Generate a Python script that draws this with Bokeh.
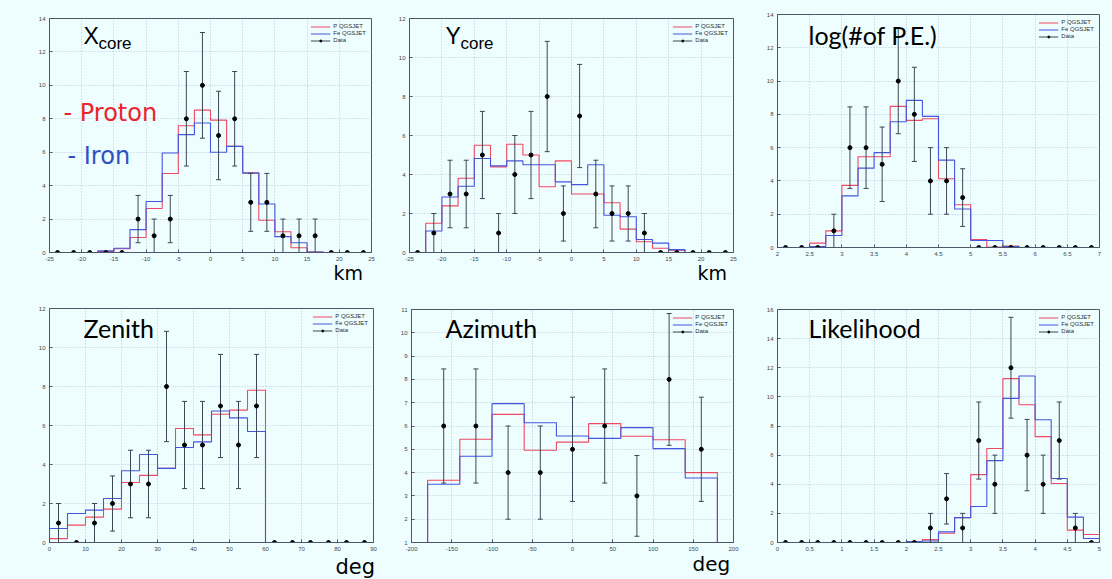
import numpy as np
from bokeh.plotting import figure
from bokeh.layouts import row, column
from bokeh.models import (Label, Legend, LegendItem, FixedTicker,
                          CustomJSTickFormatter, Range1d)
from bokeh.embed import file_html
from bokeh.resources import INLINE

BG = "#EEFEFE"
RED = "#EE4A62"
BLUE = "#4455E0"
ERR = "#3C4654"

# ---------------- data ----------------
# Xcore (km), bins of 2.5 from -25 to 25
xcore_edges = np.arange(-25, 25.001, 2.5)
xcore_p = [0, 0, 0, 0.05, 0.22, 0.9, 2.63, 4.73, 7.58, 8.52, 7.92, 6.35, 4.77, 1.93, 1.24, 0.28, 0.03, 0, 0, 0]
xcore_fe = [0, 0, 0, 0.1, 0.25, 1.37, 3.05, 5.95, 7.05, 7.75, 6.0, 6.35, 4.75, 2.9, 0.95, 0.58, 0.03, 0, 0, 0]
xcore_data = [0, 0, 0, 0, 0, 2, 1, 2, 8, 10, 7, 8, 3, 3, 1, 1, 1, 0, 0, 0]

# Ycore (km)
ycore_edges = np.arange(-25, 25.001, 2.5)
ycore_p = [0, 1.5, 2.39, 3.81, 5.5, 4.39, 5.55, 5.0, 3.37, 4.7, 3.0, 3.0, 2.55, 1.2, 0.55, 0.22, 0.12, 0, 0, 0]
ycore_fe = [0, 1.1, 2.85, 3.4, 4.82, 4.44, 4.7, 4.5, 4.5, 3.62, 3.48, 4.5, 1.91, 1.83, 0.67, 0.48, 0.15, 0, 0, 0]
ycore_data = [0, 1, 3, 3, 5, 1, 4, 5, 8, 2, 7, 3, 2, 2, 1, 0, 0, 0, 0, 0]

# log(# of P.E.)
logpe_edges = np.arange(2, 7.001, 0.25)
logpe_p = [0, 0, 0.26, 1.0, 3.73, 5.45, 5.45, 8.48, 7.64, 7.74, 4.13, 2.57, 0.48, 0.02, 0.08, 0, 0, 0, 0, 0]
logpe_fe = [0, 0, 0.06, 0.72, 3.1, 4.77, 5.7, 7.56, 8.84, 7.88, 5.25, 2.31, 0.42, 0.42, 0.06, 0, 0, 0, 0, 0]
logpe_data = [0, 0, 0, 1, 6, 6, 5, 10, 8, 4, 4, 3, 0, 0, 0, 0, 0, 0, 0, 0]

# Zenith (deg): simulation bins 0-60, data bins 0-90
zen_edges = np.arange(0, 60.001, 5)
zen_data_edges = np.arange(0, 90.001, 5)
zen_p = [0.2, 0.89, 1.3, 1.71, 3.08, 3.44, 3.8, 5.85, 5.52, 6.58, 6.79, 7.81]
zen_fe = [0.72, 1.49, 1.66, 2.26, 3.68, 4.51, 3.8, 4.87, 5.16, 6.74, 6.39, 5.69]
zen_data = [1, 0, 1, 2, 3, 3, 8, 5, 5, 7, 5, 7, 0, 0, 0, 0, 0, 0]

# Azimuth (deg)
az_edges = np.arange(-180, 180.001, 40)
az_p = [3.67, 5.43, 6.5, 4.96, 5.31, 6.1, 5.56, 5.41, 4.0]
az_fe = [3.5, 4.7, 6.96, 6.14, 5.57, 5.47, 5.93, 5.03, 3.77]
az_data = [6, 6, 4, 4, 5, 6, 3, 8, 5]

# Likelihood
lik_edges = np.arange(0, 5.001, 0.25)
lik_p = [0, 0, 0, 0, 0, 0, 0, 0, 0.05, 0.2, 0.64, 1.71, 4.66, 6.45, 11.25, 9.46, 7.27, 4.05, 0.85, 0.55]
lik_fe = [0, 0, 0, 0, 0, 0, 0, 0, 0.07, 0.1, 0.73, 1.71, 2.47, 5.62, 9.9, 11.43, 8.43, 4.39, 1.74, 0.27]
lik_data = [0, 0, 0, 0, 0, 0, 0, 0, 0, 1, 3, 1, 7, 4, 12, 6, 4, 7, 1, 0]


def step_path(edges, vals):
    xs, ys = [edges[0]], [0.0]
    for i, v in enumerate(vals):
        xs += [edges[i], edges[i + 1]]
        ys += [v, v]
    xs.append(edges[-1])
    ys.append(0.0)
    return xs, ys


FMT = CustomJSTickFormatter(code="return String(Math.round(tick*100)/100);")


def make_panel(w, h, bl, br, bt, bb, xr, yr, xt, yt, edges, pv, fev, data_edges, data):
    p = figure(width=w, height=h, x_range=Range1d(*xr), y_range=Range1d(*yr),
               output_backend="svg", toolbar_location=None, title=None,
               min_border_left=bl, min_border_right=br,
               min_border_top=bt, min_border_bottom=bb)
    p.background_fill_color = BG
    p.border_fill_color = BG
    p.outline_line_color = "#4C5868"
    p.outline_line_width = 1
    p.xaxis.ticker = FixedTicker(ticks=xt)
    p.yaxis.ticker = FixedTicker(ticks=yt)
    for ax in (p.xaxis, p.yaxis):
        ax.formatter = FMT
        ax.major_tick_in = 3
        ax.major_tick_out = 0
        ax.minor_tick_line_color = None
        ax.axis_line_color = "#4C5868"
        ax.major_tick_line_color = "#4C5868"
        ax.major_label_text_font_size = "6px"
        ax.major_label_text_color = "#404850"
        ax.major_label_text_font = "Liberation Sans"
        ax.major_label_standoff = 4
    p.grid.grid_line_color = "#AFC2DA"
    p.grid.grid_line_dash = "1 2"
    p.grid.grid_line_alpha = 0.9

    xs, ys = step_path(edges, pv)
    rp = p.line(xs, ys, line_color=RED, line_width=1.1)
    xs, ys = step_path(edges, fev)
    rf = p.line(xs, ys, line_color=BLUE, line_width=1.1)

    centers = [(data_edges[i] + data_edges[i + 1]) / 2 for i in range(len(data))]
    d = np.array(data, dtype=float)
    err = np.sqrt(d)
    lo, hi = d - err, d + err
    rs = p.segment(centers, lo, centers, hi, line_color=ERR, line_width=1)
    p.scatter(centers, hi, marker="dash", size=5, line_color=ERR, line_width=1)
    p.scatter(centers, lo, marker="dash", size=5, line_color=ERR, line_width=1)
    rd = p.scatter(centers, d, size=4, color="black")

    leg = Legend(items=[LegendItem(label="P QGSJET", renderers=[rp]),
                        LegendItem(label="Fe QGSJET", renderers=[rf]),
                        LegendItem(label="Data", renderers=[rs, rd])],
                 location="top_right")
    leg.label_text_font_size = "6px"
    leg.label_text_font = "Liberation Sans"
    leg.label_text_color = "#303030"
    leg.label_height = 5
    leg.glyph_height = 5
    leg.glyph_width = 20
    leg.label_standoff = 3
    leg.spacing = 1
    leg.padding = 2
    leg.margin = 3
    leg.background_fill_alpha = 0
    leg.border_line_alpha = 0
    p.add_layout(leg)
    return p


def strip(w, h):
    s = figure(width=w, height=h, x_range=Range1d(0, w), y_range=Range1d(0, h),
               output_backend="svg", toolbar_location=None, title=None,
               x_axis_type=None, y_axis_type=None, min_border=0)
    s.frame_align = False
    s.background_fill_color = BG
    s.border_fill_color = BG
    s.outline_line_color = None
    s.grid.visible = False
    return s


def lab(p, x, y, text, size, font="Liberation Sans", color="black"):
    p.add_layout(Label(x=x, y=y, x_units="screen", y_units="screen", text=text,
                       text_font=font, text_font_size=size,
                       text_color=color, text_baseline="alphabetic"))


# ---------------- top row ----------------
f1 = make_panel(390, 263, 49, 19, 18, 11, (-25, 25), (0, 14),
                list(range(-25, 26, 5)), list(range(0, 15, 2)),
                xcore_edges, xcore_p, xcore_fe, xcore_edges, xcore_data)
lab(f1, 34, 217, "X", "23px")
lab(f1, 49, 209, "core", "17px")
lab(f1, 14, 140, "- Proton", "24px", font="DejaVu Sans", color="#E8242C")
lab(f1, 18, 97, "- Iron", "24px", font="DejaVu Sans", color="#2E52C4")
s1 = strip(390, 19)
lab(s1, 333, 10, "km", "19px", font="DejaVu Sans")

f2 = make_panel(366, 263, 19, 23, 18, 11, (-25, 25), (0, 12),
                list(range(-25, 26, 5)), list(range(0, 13, 2)),
                ycore_edges, ycore_p, ycore_fe, ycore_edges, ycore_data)
lab(f2, 36, 217, "Y", "23px")
lab(f2, 51, 209, "core", "17px")
s2 = strip(366, 19)
lab(s2, 307, 10, "km", "19px", font="DejaVu Sans")

f3 = make_panel(355, 282, 21, 12, 14, 35, (2, 7), (0, 14),
                [2 + 0.5 * i for i in range(11)], list(range(0, 15, 2)),
                logpe_edges, logpe_p, logpe_fe, logpe_edges, logpe_data)
lab(f3, 31, 213, "log(#of P.E.)", "25px", font="Lato")

# ---------------- bottom row ----------------
f4 = make_panel(390, 271, 49, 17, 26, 11, (0, 90), (0, 12),
                list(range(0, 91, 10)), list(range(0, 13, 2)),
                zen_edges, zen_p, zen_fe, zen_data_edges, zen_data)
lab(f4, 34, 215, "Zenith", "25px", font="Lato")
s4 = strip(390, 25)
lab(s4, 335, 12, "deg", "21px", font="DejaVu Sans")

f5 = make_panel(366, 271, 21, 23, 27, 11, (-200, 200), (1, 11),
                list(range(-200, 201, 50)), list(range(1, 12)),
                az_edges, az_p, az_fe, az_edges, az_data)
lab(f5, 34, 215, "Azimuth", "25px", font="Lato")
s5 = strip(366, 25)
lab(s5, 302, 15, "deg", "20px", font="DejaVu Sans")

f6 = make_panel(355, 296, 21, 12, 27, 36, (0, 5), (0, 16),
                [0.5 * i for i in range(11)], list(range(0, 17, 2)),
                lik_edges, lik_p, lik_fe, lik_edges, lik_data)
lab(f6, 31, 215, "Likelihood", "25px", font="Lato")

layout = column(row(column(f1, s1), column(f2, s2), f3),
                row(column(f4, s4), column(f5, s5), f6))

html = file_html(layout, INLINE)
html = html.replace("</head>", "<style>html,body{background:%s;}</style></head>" % BG, 1)
open("out.html", "w").write(html)
